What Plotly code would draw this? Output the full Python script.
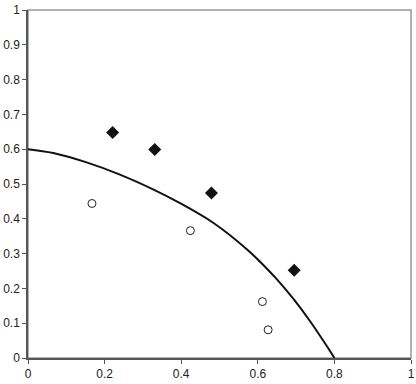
import plotly.graph_objects as go

# Data
filled_x = [0.221, 0.331, 0.479, 0.695]
filled_y = [0.648, 0.599, 0.474, 0.252]
open_x = [0.167, 0.424, 0.612, 0.627]
open_y = [0.444, 0.366, 0.162, 0.081]
# Boundary curve, points
curve_x = [0.0, 0.066, 0.153, 0.240, 0.328, 0.397, 0.4845, 0.572, 0.6065, 0.650, 0.6936, 0.737, 0.781, 0.800]
curve_y = [0.600, 0.589, 0.562, 0.527, 0.484, 0.445, 0.388, 0.312, 0.276, 0.226, 0.169, 0.105, 0.033, 0.0]

x_ticks = [0, 0.2, 0.4, 0.6, 0.8, 1]
y_ticks = [0, 0.1, 0.2, 0.3, 0.4, 0.5, 0.6, 0.7, 0.8, 0.9, 1]

fig = go.Figure()
fig.add_trace(go.Scatter(
    x=curve_x, y=curve_y, mode="lines",
    line=dict(color="#111111", width=2, shape="spline", smoothing=1.0),
    showlegend=False, hoverinfo="skip"))
fig.add_trace(go.Scatter(
    x=open_x, y=open_y, mode="markers",
    marker=dict(symbol="circle-open", size=8, color="#222222", line=dict(width=1)),
    showlegend=False, cliponaxis=False))
fig.add_trace(go.Scatter(
    x=filled_x, y=filled_y, mode="markers",
    marker=dict(symbol="diamond", size=10, color="#111111"),
    showlegend=False, cliponaxis=False))

fig.add_shape(type="rect", xref="paper", yref="paper", x0=0, x1=1, y0=0, y1=1,
              line=dict(color="#999999", width=1.5), layer="below")

font = dict(family="Liberation Sans, Arial", size=12, color="#222222")
fig.update_layout(
    width=416, height=384,
    margin=dict(l=28, r=5, t=10, b=26),
    paper_bgcolor="white", plot_bgcolor="white",
    font=font,
    xaxis=dict(range=[0, 1], tickvals=x_ticks, ticktext=[f"{v:g}" for v in x_ticks],
               showgrid=False, zeroline=False, showline=True, linecolor="#555555", linewidth=1.5,
               ticks="outside", ticklen=4, tickcolor="#555555", tickfont=font, automargin=False),
    yaxis=dict(range=[0, 1], tickvals=y_ticks, ticktext=[f"{v:g}" for v in y_ticks],
               showgrid=False, zeroline=False, showline=True, linecolor="#555555", linewidth=1.5,
               ticks="outside", ticklen=4, tickcolor="#555555", tickfont=font, automargin=False),
)
fig.write_html("out.html", config={"displayModeBar": False},
               post_script="document.body.style.margin='0';document.body.style.overflow='hidden';")
